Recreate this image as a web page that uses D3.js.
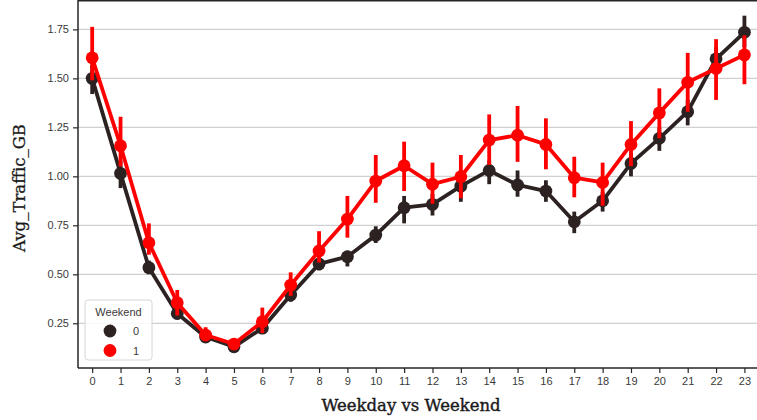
<!DOCTYPE html>
<html>
<head>
<meta charset="utf-8">
<script src="https://cdn.jsdelivr.net/npm/d3@7"></script>
<style>
  html, body { margin: 0; padding: 0; background: #fff; }
  svg { display: block; }
</style>
</head>
<body>
<svg id="chart" width="757" height="420"></svg>
<script>
// Hour of day categories
const hours = ["0","1","2","3","4","5","6","7","8","9","10","11","12","13","14","15","16","17","18","19","20","21","22","23"];

// Weekend = 0 : mean traffic and confidence interval
const weekdayMean = [1.50, 1.015, 0.534, 0.30, 0.18, 0.13, 0.225, 0.394, 0.553, 0.59, 0.70, 0.84, 0.857, 0.95, 1.03, 0.956, 0.925, 0.768, 0.875, 1.066, 1.194, 1.33, 1.60, 1.735];
const weekdayLow  = [1.42, 0.94, 0.50, 0.27, 0.16, 0.115, 0.20, 0.36, 0.52, 0.54, 0.66, 0.76, 0.80, 0.87, 0.96, 0.896, 0.87, 0.71, 0.82, 1.00, 1.13, 1.26, 1.54, 1.66];
const weekdayHigh = [1.57, 1.08, 0.57, 0.33, 0.20, 0.145, 0.25, 0.43, 0.59, 0.62, 0.745, 0.90, 0.91, 0.99, 1.08, 1.03, 0.98, 0.82, 0.92, 1.12, 1.25, 1.39, 1.66, 1.82];

// Weekend = 1 : mean traffic and confidence interval
const weekendMean = [1.605, 1.156, 0.661, 0.355, 0.19, 0.144, 0.258, 0.445, 0.619, 0.782, 0.976, 1.054, 0.96, 0.998, 1.185, 1.21, 1.163, 0.993, 0.969, 1.163, 1.324, 1.48, 1.55, 1.62];
const weekendLow  = [1.49, 1.05, 0.60, 0.29, 0.16, 0.12, 0.20, 0.39, 0.56, 0.687, 0.865, 0.925, 0.86, 0.888, 1.058, 1.074, 1.036, 0.893, 0.85, 1.052, 1.194, 1.33, 1.39, 1.47];
const weekendHigh = [1.763, 1.304, 0.76, 0.42, 0.23, 0.17, 0.33, 0.51, 0.72, 0.90, 1.109, 1.177, 1.07, 1.109, 1.316, 1.359, 1.296, 1.10, 1.07, 1.282, 1.449, 1.63, 1.70, 1.72];

const yTicks = [0.25, 0.50, 0.75, 1.00, 1.25, 1.50, 1.75];
const legendLabels = ["0", "1"];
const colors = ["#2d2222", "#ff0000"];

const series = [
  { key: legendLabels[0], mean: weekdayMean, low: weekdayLow, high: weekdayHigh, color: colors[0] },
  { key: legendLabels[1], mean: weekendMean, low: weekendLow, high: weekendHigh, color: colors[1] }
];

const svg = d3.select("#chart");
const plot = { left: 78, top: 0, right: 758.6, bottom: 368 };

const x = d3.scalePoint().domain(hours).range([plot.left, plot.right]).padding(0.5);
const y = d3.scaleLinear().domain([0.0218, 1.900]).range([plot.bottom, plot.top]);

// Horizontal grid
svg.append("g")
  .selectAll("line")
  .data(yTicks)
  .join("line")
  .attr("x1", plot.left).attr("x2", plot.right)
  .attr("y1", d => y(d)).attr("y2", d => y(d))
  .attr("stroke", "#d0d0d0")
  .attr("stroke-width", 1.3);

// Axes
const tickFont = "'Liberation Sans', Arial, sans-serif";
const yAxis = svg.append("g")
  .attr("transform", `translate(${plot.left},0)`)
  .call(d3.axisLeft(y).tickValues(yTicks).tickFormat(d3.format(".2f")).tickSize(5).tickPadding(4));
const xAxis = svg.append("g")
  .attr("transform", `translate(0,${plot.bottom})`)
  .call(d3.axisBottom(x).tickSize(5).tickPadding(4));

[yAxis, xAxis].forEach(g => {
  g.select(".domain").remove();
  g.selectAll(".tick line").attr("stroke", "#262626").attr("stroke-width", 1.2);
  g.selectAll(".tick text")
    .attr("fill", "#3a3a3a")
    .style("font-family", tickFont)
    .style("font-size", "11px");
});

// Spines
svg.append("line").attr("x1", plot.left).attr("x2", plot.left).attr("y1", plot.top).attr("y2", plot.bottom)
  .attr("stroke", "#262626").attr("stroke-width", 1.5);
svg.append("line").attr("x1", plot.left).attr("x2", plot.right).attr("y1", plot.bottom).attr("y2", plot.bottom)
  .attr("stroke", "#262626").attr("stroke-width", 1.5);
svg.append("line").attr("x1", plot.left).attr("x2", plot.right).attr("y1", plot.top + 0.75).attr("y2", plot.top + 0.75)
  .attr("stroke", "#262626").attr("stroke-width", 1.5);

// Point plot series: error bars, connecting line, markers
const line = d3.line().x((d, i) => x(hours[i])).y(d => y(d));
series.forEach(s => {
  const g = svg.append("g");
  g.selectAll("line.err")
    .data(hours)
    .join("line")
    .attr("class", "err")
    .attr("x1", d => x(d)).attr("x2", d => x(d))
    .attr("y1", (d, i) => y(s.low[i])).attr("y2", (d, i) => y(s.high[i]))
    .attr("stroke", s.color)
    .attr("stroke-width", 3.8);
  g.append("path")
    .datum(s.mean)
    .attr("d", line)
    .attr("fill", "none")
    .attr("stroke", s.color)
    .attr("stroke-width", 3.8)
    .attr("stroke-linejoin", "round");
  g.selectAll("circle")
    .data(hours)
    .join("circle")
    .attr("cx", d => x(d))
    .attr("cy", (d, i) => y(s.mean[i]))
    .attr("r", 6.4)
    .attr("fill", s.color);
});

// Axis titles
const titleFont = "'DejaVu Serif', serif";
svg.append("text")
  .attr("x", 411).attr("y", 411)
  .attr("text-anchor", "middle")
  .attr("fill", "#1a1a1a")
  .attr("stroke", "#1a1a1a")
  .attr("stroke-width", 0.4)
  .style("font-family", titleFont)
  .style("font-size", "16.5px")
  .text("Weekday vs Weekend");
svg.append("text")
  .attr("transform", "translate(25,188) rotate(-90)")
  .attr("text-anchor", "middle")
  .attr("fill", "#1a1a1a")
  .attr("stroke", "#1a1a1a")
  .attr("stroke-width", 0.3)
  .style("font-family", titleFont)
  .style("font-size", "16.5px")
  .text("Avg_Traffic_GB");

// Legend
const legend = svg.append("g").attr("transform", "translate(85,300)");
legend.append("rect")
  .attr("width", 67).attr("height", 60)
  .attr("rx", 3)
  .attr("fill", "#ffffff").attr("fill-opacity", 0.85)
  .attr("stroke", "#d6d6d6").attr("stroke-width", 1);
legend.append("text")
  .attr("x", 33.5).attr("y", 16)
  .attr("text-anchor", "middle")
  .attr("fill", "#3a3a3a")
  .style("font-family", tickFont)
  .style("font-size", "11px")
  .text("Weekend");
series.forEach((s, i) => {
  legend.append("circle")
    .attr("cx", 25).attr("cy", 31 + i * 19.5)
    .attr("r", 6.4)
    .attr("fill", s.color);
  legend.append("text")
    .attr("x", 48).attr("y", 35 + i * 19.5)
    .attr("fill", "#3a3a3a")
    .style("font-family", tickFont)
    .style("font-size", "11px")
    .text(s.key);
});
</script>
</body>
</html>
